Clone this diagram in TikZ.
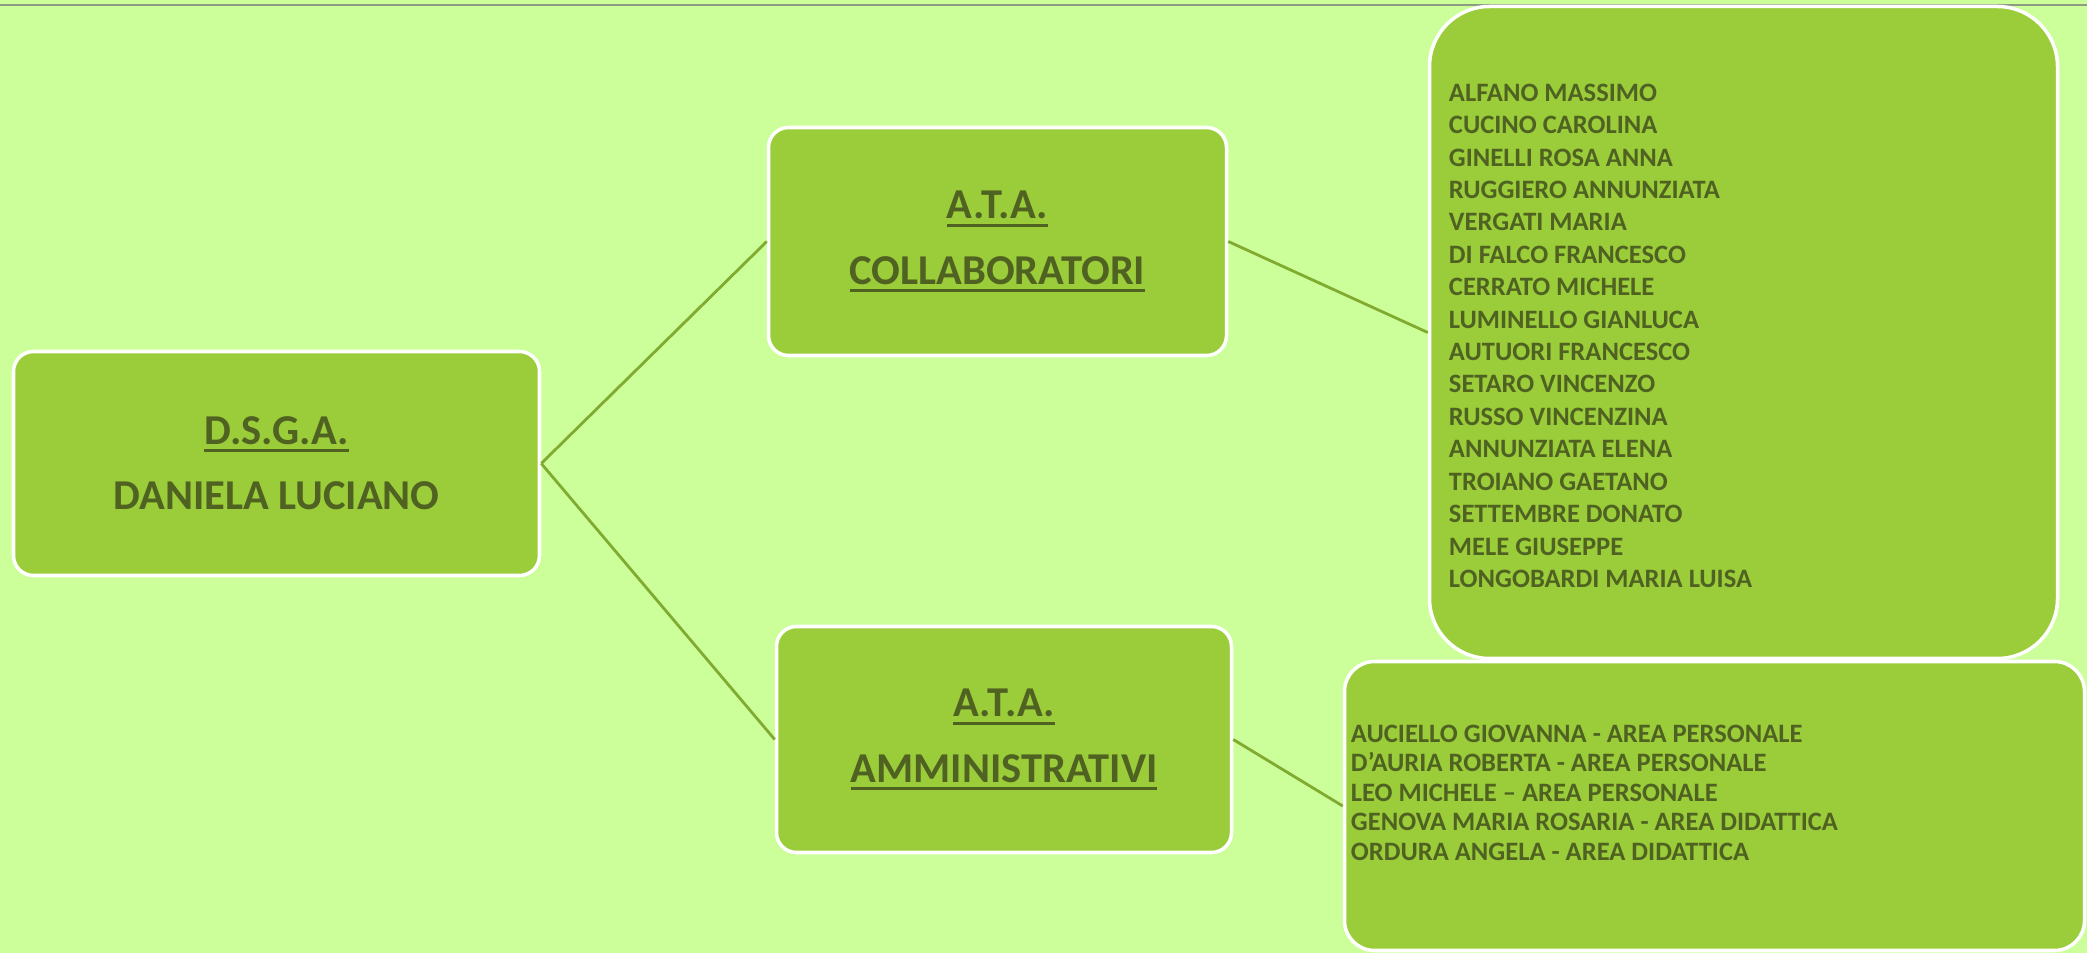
\documentclass[tikz,border=0pt]{standalone}
\usepackage{fontspec}
\setmainfont{Carlito}
\definecolor{pagebg}{RGB}{204,255,153}
\definecolor{leafgreen}{RGB}{154,205,57}
\definecolor{olivetext}{RGB}{79,98,34}
\definecolor{linkgreen}{RGB}{128,170,48}
\definecolor{rulegray}{RGB}{140,155,130}
\usetikzlibrary{positioning}
\newcommand{\uword}[1]{\leavevmode\vtop{\hbox{#1}\kern1.3pt\hrule height 0.85pt}}

\begin{document}
\begin{tikzpicture}[
    headbox/.style={draw=white, line width=1pt, rounded corners=0.2cm, fill=leafgreen,
                    text=olivetext, align=center,
                    font=\bfseries\fontsize{12.1}{18.6}\selectfont},
    listbox/.style={draw=white, line width=1pt, fill=leafgreen},
    names/.style={anchor=north west, inner sep=0pt, align=left, text=olivetext},
    link/.style={draw=linkgreen, line width=0.8pt}
  ]
  \useasboundingbox (0,0) rectangle (20.87,-9.53);
  \fill[pagebg] (0,0) rectangle (20.87,-9.53);
  \draw[rulegray, line width=0.6pt] (0,-0.05) -- (20.87,-0.05);

  % staff boxes
  \node[headbox, minimum width=5.26cm, minimum height=2.24cm] (dsga) at (2.765,-4.635)
    {\uword{D.S.G.A.}\\DANIELA LUCIANO};
  \node[headbox, minimum width=4.58cm, minimum height=2.28cm] (collab) at (9.975,-2.415)
    {\uword{A.T.A.}\\\uword{COLLABORATORI}};
  \node[headbox, minimum width=4.55cm, minimum height=2.26cm] (ammin) at (10.04,-7.395)
    {\uword{A.T.A.}\\\uword{AMMINISTRATIVI}};

  % name lists
  \node[listbox, rounded corners=0.6cm, minimum width=6.28cm, minimum height=6.52cm] (collabbox) at (17.435,-3.325) {};
  \node[names, font=\bfseries\fontsize{7.55}{9.22}\selectfont] (collabnames)
    at ([xshift=0.205cm, yshift=-0.785cm]collabbox.north west)
    {ALFANO MASSIMO\\CUCINO CAROLINA\\GINELLI ROSA ANNA\\RUGGIERO ANNUNZIATA\\
     VERGATI MARIA\\DI FALCO FRANCESCO\\CERRATO MICHELE\\LUMINELLO GIANLUCA\\
     AUTUORI FRANCESCO\\SETARO VINCENZO\\RUSSO VINCENZINA\\ANNUNZIATA ELENA\\
     TROIANO GAETANO\\SETTEMBRE DONATO\\MELE GIUSEPPE\\LONGOBARDI MARIA LUISA};
  \node[listbox, rounded corners=0.3cm, minimum width=7.40cm, minimum height=2.89cm] (amminbox) at (17.145,-8.06) {};
  \node[names, font=\bfseries\fontsize{7.55}{8.39}\selectfont] (amminnames)
    at ([xshift=0.075cm, yshift=-0.645cm]amminbox.north west)
    {AUCIELLO GIOVANNA - AREA PERSONALE\\D’AURIA ROBERTA - AREA PERSONALE\\
     LEO MICHELE \textendash{} AREA PERSONALE\\GENOVA MARIA ROSARIA - AREA DIDATTICA\\
     ORDURA ANGELA - AREA DIDATTICA};

  \draw[link] (dsga.east) -- (collab.west);
  \draw[link] (dsga.east) -- (ammin.west);
  \draw[link] (collab.east) -- (collabbox.west);
  \draw[link] (ammin.east) -- (amminbox.west);
\end{tikzpicture}
\end{document}
